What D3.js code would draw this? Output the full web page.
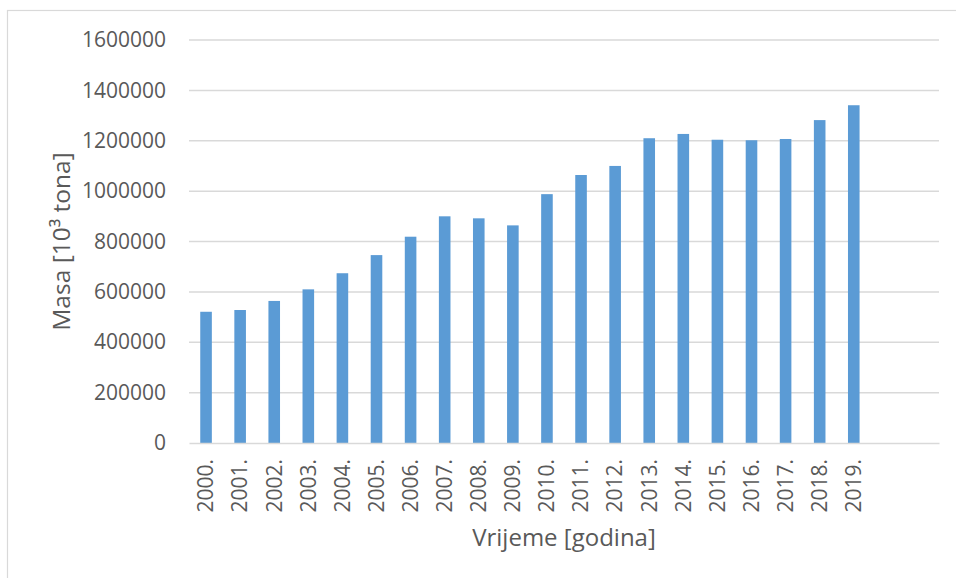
<!DOCTYPE html>
<html>
<head>
<meta charset="utf-8">
<script src="https://cdn.jsdelivr.net/npm/d3@7"></script>
<style>
    body { margin: 0; background: #fff; }
    svg { display: block; font-family: "Open Sans", sans-serif; }
</style>
</head>
<body>
<svg id="chart"></svg>
<script>
// data
const years = ['2000.', '2001.', '2002.', '2003.', '2004.', '2005.', '2006.', '2007.', '2008.', '2009.',
               '2010.', '2011.', '2012.', '2013.', '2014.', '2015.', '2016.', '2017.', '2018.', '2019.'];
const masa = [521000, 528000, 564000, 610000, 674000, 746000, 819000, 900000, 892000, 864000,
              988000, 1064000, 1100000, 1210000, 1227000, 1204000, 1202000, 1207000, 1282000, 1341000];
// the category axis has two empty slots after 2019
const emptySlots = ['', ' '];
const yTicks = [0, 200000, 400000, 600000, 800000, 1000000, 1200000, 1400000, 1600000];

class BarChart {

    constructor(_config) {
        this.config = {
            parentElement: _config.parentElement,
            containerWidth: _config.containerWidth || 956,
            containerHeight: _config.containerHeight || 578,
            margin: { top: 40, bottom: 135, right: 17, left: 189 }
        }
        this.initVis();
    }

    initVis() {
        let vis = this;

        vis.width = vis.config.containerWidth - vis.config.margin.left - vis.config.margin.right;
        vis.height = vis.config.containerHeight - vis.config.margin.top - vis.config.margin.bottom;

        vis.svg = d3.select(vis.config.parentElement)
            .attr('width', vis.config.containerWidth)
            .attr('height', vis.config.containerHeight);

        // chart frame
        vis.svg.append('rect')
            .attr('x', 7.5)
            .attr('y', 10.5)
            .attr('width', vis.config.containerWidth)
            .attr('height', vis.config.containerHeight)
            .attr('fill', 'none')
            .attr('stroke', '#d9d9d9')
            .attr('stroke-width', 1.2);

        vis.chart = vis.svg.append('g')
            .attr('transform', `translate(${vis.config.margin.left},${vis.config.margin.top})`);

        // scales
        vis.xScale = d3.scaleBand()
            .domain(years.concat(emptySlots))
            .range([0, vis.width])
            .paddingInner(0.66)
            .paddingOuter(0.33);

        vis.yScale = d3.scaleLinear()
            .domain([0, 1600000])
            .range([vis.height, 0]);

        // gridlines
        vis.chart.append('g')
            .selectAll('line')
            .data(yTicks.filter(d => d > 0))
            .join('line')
            .attr('x1', 0)
            .attr('x2', vis.width)
            .attr('y1', d => vis.yScale(d))
            .attr('y2', d => vis.yScale(d))
            .attr('stroke', '#d9d9d9')
            .attr('stroke-width', 1.5);

        // y axis (labels only)
        vis.yAxis = d3.axisLeft(vis.yScale)
            .tickValues(yTicks)
            .tickSize(0)
            .tickPadding(23)
            .tickFormat(d => String(d));
        vis.yAxisGroup = vis.chart.append('g')
            .attr('class', 'axis y-axis')
            .call(vis.yAxis);
        vis.yAxisGroup.select('.domain').remove();
        vis.yAxisGroup.selectAll('text')
            .attr('font-size', '21px')
            .attr('font-family', '"Open Sans", sans-serif')
            .attr('fill', '#595959');

        // bars
        vis.chart.append('g')
            .selectAll('rect')
            .data(masa)
            .join('rect')
            .attr('class', 'bar')
            .attr('fill', '#5b9bd5')
            .attr('x', (d, i) => vis.xScale(years[i]))
            .attr('width', vis.xScale.bandwidth())
            .attr('y', d => vis.yScale(d))
            .attr('height', d => vis.height - vis.yScale(d));

        // x axis
        vis.xAxis = d3.axisBottom(vis.xScale)
            .tickValues(years)
            .tickSize(0)
            .tickSizeOuter(0);
        vis.xAxisGroup = vis.chart.append('g')
            .attr('class', 'axis x-axis')
            .attr('transform', `translate(0,${vis.height})`)
            .call(vis.xAxis);
        vis.xAxisGroup.select('.domain')
            .attr('stroke', '#d9d9d9')
            .attr('stroke-width', 1.5);
        vis.xAxisGroup.selectAll('text')
            .attr('font-size', '21px')
            .attr('font-family', '"Open Sans", sans-serif')
            .attr('fill', '#595959')
            .attr('transform', 'rotate(-90)')
            .attr('text-anchor', 'end')
            .attr('x', -16)
            .attr('y', 0)
            .attr('dy', '0.35em');

        // axis titles
        vis.chart.append('text')
            .attr('x', vis.width / 2)
            .attr('y', 506)
            .attr('text-anchor', 'middle')
            .attr('font-size', '24px')
            .attr('fill', '#595959')
            .text('Vrijeme [godina]');

        vis.svg.append('text')
            .attr('transform', `translate(70,${vis.config.margin.top + vis.height / 2}) rotate(-90)`)
            .attr('text-anchor', 'middle')
            .attr('font-size', '24.5px')
            .attr('fill', '#595959')
            .text('Masa [10³ tona]');
    }
}

new BarChart({ parentElement: '#chart' });
</script>
</body>
</html>
